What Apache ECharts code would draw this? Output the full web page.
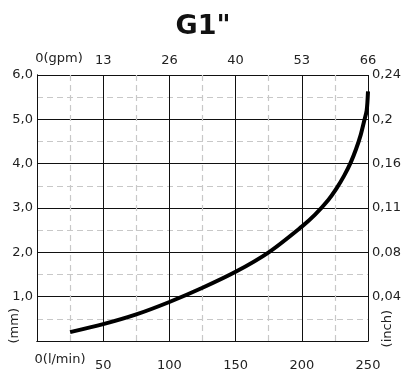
<!DOCTYPE html>
<html>
<head>
<meta charset="utf-8">
<script src="https://cdn.jsdelivr.net/npm/echarts@6/dist/echarts.min.js"></script>
<style>
    html, body { margin: 0; padding: 0; background: #fff; }
    #chart { width: 406px; height: 372px; }
</style>
</head>
<body>
<div id="chart"></div>
<script>
// flow (l/min) vs pressure drop (mm)
var flowLpm = [25, 50, 75, 100, 125, 150, 175, 200, 210, 220, 226, 232, 237, 241, 244.5, 247, 249, 250];
var dropMm = [0.2, 0.38, 0.6, 0.88, 1.2, 1.56, 2.0, 2.58, 2.85, 3.18, 3.43, 3.73, 4.03, 4.33, 4.65, 4.95, 5.2, 5.63];

var bottomLabels = ['0(l/min)', '50', '100', '150', '200', '250'];
var topLabels = ['0(gpm)', '13', '26', '40', '53', '66'];
var leftLabels = ['', '1,0', '2,0', '3,0', '4,0', '5,0', '6,0'];
var rightLabels = ['', '0,04', '0,08', '0,11', '0,16', '0,2', '0,24'];

var FONT = 'DejaVu Sans';

window.onload = function () {
    var myChart = echarts.init(document.getElementById('chart'));

    var points = [];
    for (var i = 0; i < flowLpm.length; i++) {
        points.push([flowLpm[i], dropMm[i]]);
    }

    var option = {
        animation: false,
        title: {
            text: 'G1"',
            left: 'center',
            top: 8,
            textStyle: { fontFamily: FONT, fontSize: 27, fontWeight: 'bold', color: '#111' }
        },
        grid: { left: 37, right: 38, top: 75, bottom: 28 },
        xAxis: [{
            type: 'value',
            position: 'bottom',
            min: 0, max: 250, interval: 50,
            axisLine: { show: true, lineStyle: { color: '#111', width: 1 } },
            axisTick: { show: false },
            minorTick: { show: false, splitNumber: 2 },
            splitLine: { show: true, lineStyle: { color: '#111', width: 1 } },
            minorSplitLine: { show: true, lineStyle: { color: '#c8c8c8', width: 1.2, type: [6, 4] } },
            axisLabel: {
                margin: 12,
                formatter: function (v) {
                    var s = bottomLabels[Math.round(v / 50)];
                    return v === 0 ? '{z|' + s + '}' : '{n|' + s + '}';
                },
                rich: {
                    z: { fontFamily: FONT, fontSize: 13, color: '#222', padding: [0, 0, 0, 46] },
                    n: { fontFamily: FONT, fontSize: 13, color: '#222', padding: [6, 0, 0, 0] }
                }
            }
        }, {
            type: 'value',
            position: 'top',
            min: 0, max: 250, interval: 50,
            axisLine: { show: true, lineStyle: { color: '#111', width: 1 } },
            axisTick: { show: false },
            splitLine: { show: false },
            axisLabel: {
                margin: 8,
                formatter: function (v) {
                    var s = topLabels[Math.round(v / 50)];
                    return v === 0 ? '{z|' + s + '}' : '{n|' + s + '}';
                },
                rich: {
                    z: { fontFamily: FONT, fontSize: 13, color: '#222', padding: [0, 0, 2, 44] },
                    n: { fontFamily: FONT, fontSize: 13, color: '#222' }
                }
            }
        }],
        yAxis: [{
            type: 'value',
            position: 'left',
            min: 0, max: 6, interval: 1,
            axisLine: { show: true, lineStyle: { color: '#111', width: 1 } },
            axisTick: { show: false },
            minorTick: { show: false, splitNumber: 2 },
            splitLine: { show: true, lineStyle: { color: '#111', width: 1 } },
            minorSplitLine: { show: true, lineStyle: { color: '#c8c8c8', width: 1.2, type: [6, 4] } },
            axisLabel: {
                margin: 4,
                fontFamily: FONT, fontSize: 13, color: '#222',
                padding: [0, 0, 8, 0],
                formatter: function (v) { return leftLabels[Math.round(v)]; }
            }
        }, {
            type: 'value',
            position: 'right',
            min: 0, max: 6, interval: 1,
            axisLine: { show: true, lineStyle: { color: '#111', width: 1 } },
            axisTick: { show: false },
            splitLine: { show: false },
            axisLabel: {
                margin: 4,
                fontFamily: FONT, fontSize: 13, color: '#222',
                padding: [0, 0, 8, 0],
                formatter: function (v) { return rightLabels[Math.round(v)]; }
            }
        }],
        graphic: [{
            type: 'text',
            left: 8, top: 308,
            rotation: Math.PI / 2,
            style: { text: '(mm)', fontFamily: FONT, fontSize: 13, fill: '#222' }
        }, {
            type: 'text',
            left: 381, top: 310,
            rotation: Math.PI / 2,
            style: { text: '(inch)', fontFamily: FONT, fontSize: 13, fill: '#222' }
        }],
        series: [{
            name: 'drop',
            type: 'line',
            xAxisIndex: 0,
            yAxisIndex: 0,
            smooth: 0.3,
            showSymbol: false,
            lineStyle: { color: '#000', width: 4 },
            data: points
        }]
    };
    myChart.setOption(option);
};
</script>
</body>
</html>
